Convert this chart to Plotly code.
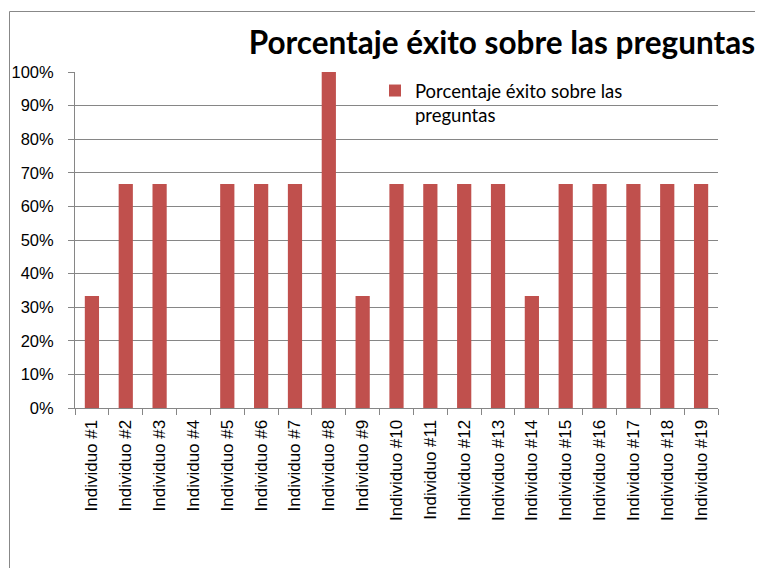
import plotly.graph_objects as go

categories = ["Individuo #%d" % i for i in range(1, 20)]
values = [0.3333, 0.6667, 0.6667, 0.0, 0.6667, 0.6667, 0.6667, 1.0, 0.3333, 0.6667,
          0.6667, 0.6667, 0.6667, 0.3333, 0.6667, 0.6667, 0.6667, 0.6667, 0.6667]
series_name = "Porcentaje éxito sobre las<br>preguntas"
title_text = "Porcentaje éxito sobre las preguntas"

# page body adds an 8px margin on every side; keep the figure inside the window
OFF = 8
W, H = 763 - 2 * OFF, 576 - 2 * OFF
L, T = 75 - OFF, 72 - OFF
PR, PB = 718 - OFF, 408 - OFF
R, B = W - PR, H - PB
pw, ph = W - L - R, H - T - B

def px_x(px):
    return (px - OFF - L) / pw

def px_y(py):
    return (H - B - (py - OFF)) / ph

fig = go.Figure()
fig.add_trace(go.Bar(x=categories, y=values, name=series_name, marker_color="#C0504D",
                     marker_line_width=0, showlegend=True))

border = dict(color="#888888", width=1)
fig.update_layout(
    width=W, height=H,
    margin=dict(l=L, r=R, t=T, b=B, autoexpand=False),
    paper_bgcolor="white", plot_bgcolor="white",
    bargap=0.58,
    title=dict(text="<b>" + title_text + "</b>", x=1.0, xanchor="right", xref="container",
               y=1 - (43 - OFF) / H, yanchor="middle", yref="container",
               font=dict(family="Lato", size=31.5, color="black")),
    showlegend=True,
    legend=dict(x=px_x(375), y=px_y(72), xanchor="left", yanchor="top", bgcolor="rgba(0,0,0,0)",
                valign="top",
                font=dict(family="Lato", size=18.5, color="black"), itemwidth=30),
    font=dict(family="Liberation Sans", size=16, color="black"),
    xaxis=dict(tickangle=-90, ticks="outside", tickson="boundaries", ticklen=6,
               tickcolor="#868686", showline=True, linecolor="#868686", showgrid=False,
               ticklabelstandoff=4, automargin=False,
               tickfont=dict(family="Liberation Sans", size=17)),
    yaxis=dict(range=[0, 1], dtick=0.1, tickformat=".0%", ticks="outside", ticklen=6,
               tickcolor="#868686", showline=True, linecolor="#868686", showgrid=True,
               gridcolor="#868686", gridwidth=1, zeroline=False,
               ticklabelstandoff=11, automargin=False,
               tickfont=dict(family="Liberation Sans", size=16.5)),
    shapes=[
        dict(type="line", xref="paper", yref="paper", x0=px_x(9.5), x1=px_x(800),
             y0=px_y(11.5), y1=px_y(11.5), line=border),
        dict(type="line", xref="paper", yref="paper", x0=px_x(9.5), x1=px_x(9.5),
             y0=px_y(11.5), y1=px_y(620), line=border),
    ],
)

fig.write_html("out.html")
